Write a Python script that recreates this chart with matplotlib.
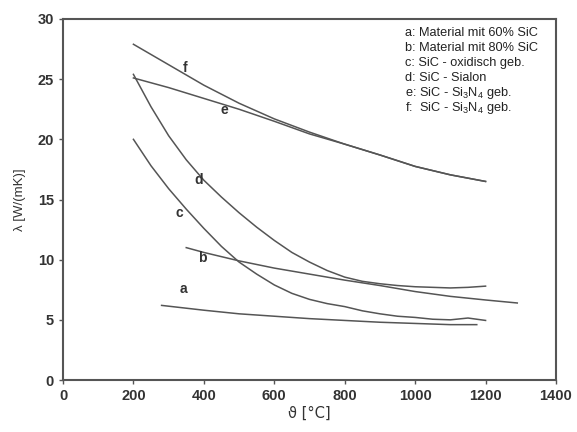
import matplotlib
matplotlib.use('Agg')
from matplotlib import pyplot as plt

plt.rcParams['font.family'] = ['Liberation Sans Narrow', 'Liberation Sans', 'DejaVu Sans']
plt.rcParams['mathtext.fontset'] = 'custom'
plt.rcParams['mathtext.rm'] = 'Liberation Sans'

# curve data (temperature in degC, lambda in W/(mK))
a_t = [280, 400, 500, 600, 700, 800, 900, 1000, 1100, 1175]
a_l = [6.2, 5.8, 5.5, 5.3, 5.1, 4.95, 4.8, 4.7, 4.6, 4.6]

b_t = [350, 400, 500, 600, 700, 800, 900, 1000, 1100, 1200, 1290]
b_l = [11.0, 10.6, 9.9, 9.3, 8.8, 8.3, 7.85, 7.35, 6.95, 6.65, 6.4]

c_t = [200, 250, 300, 350, 400, 450, 500, 550, 600, 650, 700, 750, 800,
       850, 900, 950, 1000, 1050, 1100, 1150, 1200]
c_l = [20.0, 17.8, 15.9, 14.2, 12.6, 11.1, 9.8, 8.8, 7.9, 7.2, 6.7, 6.35, 6.1,
       5.75, 5.5, 5.3, 5.2, 5.05, 5.0, 5.15, 4.95]

d_t = [200, 250, 300, 350, 400, 450, 500, 550, 600, 650, 700, 750, 800,
       850, 900, 950, 1000, 1050, 1100, 1150, 1200]
d_l = [25.4, 22.7, 20.3, 18.3, 16.6, 15.2, 13.9, 12.7, 11.6, 10.6, 9.8, 9.1, 8.55,
       8.2, 8.0, 7.85, 7.75, 7.7, 7.65, 7.7, 7.8]

e_t = [200, 300, 400, 500, 600, 700, 800, 900, 1000, 1100, 1200]
e_l = [25.1, 24.3, 23.4, 22.5, 21.5, 20.45, 19.6, 18.7, 17.75, 17.05, 16.5]

f_t = [200, 300, 400, 500, 600, 700, 800, 900, 1000, 1100, 1200]
f_l = [27.9, 26.2, 24.5, 23.0, 21.7, 20.6, 19.6, 18.7, 17.75, 17.05, 16.5]

curve_names = ['a', 'b', 'c', 'd', 'e', 'f']
label_pos = {'a': (343, 7.6), 'b': (395, 10.1), 'c': (329, 13.9),
             'd': (386, 16.6), 'e': (457, 22.4), 'f': (346, 25.9)}

legend_lines = ['a: Material mit 60% SiC',
                'b: Material mit 80% SiC',
                'c: SiC - oxidisch geb.',
                'd: SiC - Sialon',
                'e: SiC - Si$_3$N$_4$ geb.',
                'f:  SiC - Si$_3$N$_4$ geb.']

x_ticks = [0, 200, 400, 600, 800, 1000, 1200, 1400]
y_ticks = [0, 5, 10, 15, 20, 25, 30]

line_col = '#555555'

fig = plt.figure(figsize=(5.77, 4.32), dpi=100, facecolor='w')
ax = fig.add_axes([63 / 577, 52 / 432, 493 / 577, 361 / 432])

series = {'a': (a_t, a_l), 'b': (b_t, b_l), 'c': (c_t, c_l),
          'd': (d_t, d_l), 'e': (e_t, e_l), 'f': (f_t, f_l)}
for key in curve_names:
    t, l = series[key]
    ax.plot(t, l, color=line_col, lw=1.1)
    ax.text(label_pos[key][0], label_pos[key][1], key, fontsize=10,
            fontweight='bold', color='#333333', ha='center', va='center')

for i, txt in enumerate(legend_lines):
    ax.text(0.694, 0.96 - i * 0.0415, txt, transform=ax.transAxes,
            fontsize=9.2, color='#222222', ha='left', va='center')

ax.set_xlim(0, 1400)
ax.set_ylim(0, 30)
ax.set_xticks(x_ticks)
ax.set_yticks(y_ticks)
ax.tick_params(direction='out', length=3, width=1, color=line_col,
               labelsize=10.5, labelcolor='#333333')
for lab in ax.get_xticklabels() + ax.get_yticklabels():
    lab.set_fontweight('bold')
for sp in ax.spines.values():
    sp.set_color(line_col)
    sp.set_linewidth(1.5)

ax.set_xlabel('\u03d1 [°C]', fontsize=10.5, color='#333333', labelpad=2,
              family=['Liberation Sans Narrow', 'DejaVu Sans'])
ax.set_ylabel('\u03bb [W/(mK)]', fontsize=9.5, color='#333333', labelpad=8)

fig.savefig('out.png', dpi=100)
